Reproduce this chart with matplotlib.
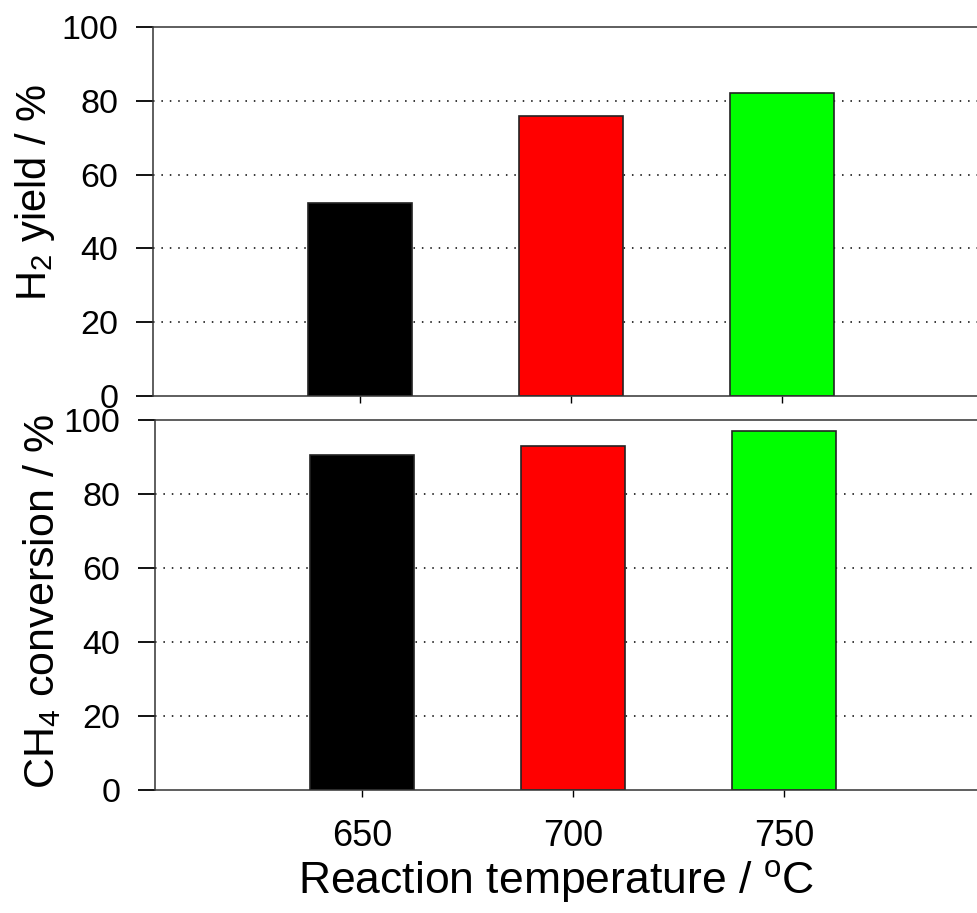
import matplotlib
matplotlib.use("Agg")
import matplotlib.pyplot as plt

plt.rcParams["font.family"] = ["Liberation Sans", "DejaVu Sans"]
plt.rcParams["mathtext.fontset"] = "custom"
plt.rcParams["mathtext.rm"] = "Liberation Sans"
plt.rcParams["mathtext.it"] = "Liberation Sans"
plt.rcParams["mathtext.default"] = "regular"

# Data
temperatures = [650, 700, 750]
h2_yield = [52.3, 75.9, 82.1]
ch4_conversion = [90.5, 93.0, 97.0]
bar_colors = ["#000000", "#ff0000", "#00ff00"]
y_ticks = [0, 20, 40, 60, 80, 100]

W, H = 977, 913
fig = plt.figure(figsize=(W / 100, H / 100), dpi=100)

ax_top = fig.add_axes([153 / W, 1 - 396 / H, 840 / W, 369 / H])
ax_bot = fig.add_axes([155 / W, 1 - 790 / H, 840 / W, 370 / H])


def style_axis(ax, values):
    for y in y_ticks[1:-1]:
        ax.axhline(y, color="black", linestyle=(0, (1, 4.5)), linewidth=1.1, zorder=0)
    ax.bar(temperatures, values, width=24.6, color=bar_colors,
           edgecolor="#222222", linewidth=1.2, zorder=2)
    ax.set_xlim(601, 800)
    ax.set_ylim(0, 100)
    ax.set_yticks(y_ticks)
    ax.set_xticks(temperatures)
    ax.tick_params(axis="y", direction="out", length=12, width=1.3,
                   pad=13, labelsize=24.5)
    ax.tick_params(axis="x", direction="out", length=5, width=1.0)
    ax.spines["right"].set_visible(False)
    for side in ("left", "top", "bottom"):
        ax.spines[side].set_linewidth(1.1)
        ax.spines[side].set_color("#333333")


style_axis(ax_top, h2_yield)
ax_top.tick_params(axis="x", labelbottom=False)
ax_top.set_ylabel("H$_2$ yield / %", fontsize=30)
ax_top.yaxis.set_label_coords((57 - 153) / 840, 0.551)

style_axis(ax_bot, ch4_conversion)
ax_bot.tick_params(axis="x", labelsize=26, pad=16)
ax_bot.set_ylabel("CH$_4$ conversion / %", fontsize=31)
ax_bot.yaxis.set_label_coords((63 - 155) / 840, 0.51)
ax_bot.set_xlabel("Reaction temperature / $^{o}$C", fontsize=32)
ax_bot.xaxis.set_label_coords((556 - 155) / 840, (790 - 858) / 370)

fig.savefig("out.png", dpi=100)
